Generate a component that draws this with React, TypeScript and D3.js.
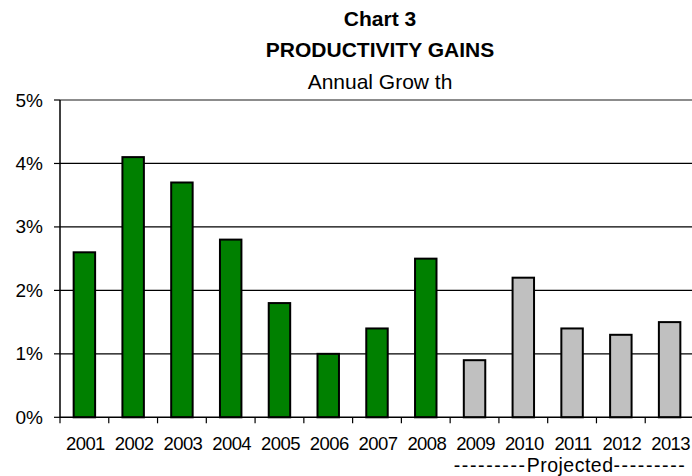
import React from "react";
import * as d3 from "d3";

const years = ["2001","2002","2003","2004","2005","2006","2007","2008","2009","2010","2011","2012","2013"];
const growth = [2.6, 4.1, 3.7, 2.8, 1.8, 1.0, 1.4, 2.5, 0.9, 2.2, 1.4, 1.3, 1.5];
const projected = [false,false,false,false,false,false,false,false,true,true,true,true,true];
const yTicks = [0, 1, 2, 3, 4, 5];
const titleLines = ["Chart 3", "PRODUCTIVITY GAINS", "Annual Grow th"];
const projectedWord = "Projected";
const projectedDashes = "---------";

const W = 692, H = 476;
const left = 60, right = 694, top = 100, bottom = 417.3;

export default function App() {
  const x = d3.scaleBand<string>().domain(years).range([left, right]).paddingInner(0.56).paddingOuter(0.28);
  const y = d3.scaleLinear().domain([0, 5]).range([bottom, top]);
  const step = x.step();
  const font = "'Liberation Sans', Arial, sans-serif";
  const projYears = years.filter((_, i) => projected[i]);
  const projCenter = ((x(projYears[0]) as number) - (step - x.bandwidth()) / 2 + (x(projYears[projYears.length - 1]) as number) + x.bandwidth() + (step - x.bandwidth()) / 2) / 2;

  return (
    <svg width={W} height={H} style={{ position: "absolute", left: 0, top: 0, background: "#fff" }} fontFamily={font}>
      <rect x={0} y={0} width={W} height={H} fill="#fff" />
      <text x={380} y={26} textAnchor="middle" fontWeight="bold" fontSize={21}>{titleLines[0]}</text>
      <text x={380} y={57.3} textAnchor="middle" fontWeight="bold" fontSize={21}>{titleLines[1]}</text>
      <text x={380} y={89.3} textAnchor="middle" fontSize={21}>{titleLines[2]}</text>

      {yTicks.map((t) => (
        <g key={t}>
          {t > 0 && (
            <line x1={left} x2={W} y1={y(t)} y2={y(t)} stroke={t === 5 ? "#8c8c8c" : "#000"} strokeWidth={t === 5 ? 2 : 1.2} />
          )}
          <line x1={left - 6} x2={left} y1={y(t)} y2={y(t)} stroke="#000" strokeWidth={1.2} />
          <text x={43} y={y(t) + 6.5} textAnchor="end" fontSize={19}>{t}%</text>
        </g>
      ))}

      {years.map((yr, i) => (
        <rect
          key={yr}
          x={x(yr)}
          y={y(growth[i])}
          width={x.bandwidth()}
          height={y(0) - y(growth[i])}
          fill={projected[i] ? "#c0c0c0" : "#008000"}
          stroke="#000"
          strokeWidth={2}
        />
      ))}

      <line x1={left} x2={left} y1={top} y2={bottom} stroke="#000" strokeWidth={1.5} />
      <line x1={left} x2={W} y1={bottom} y2={bottom} stroke="#000" strokeWidth={1.5} />
      {years.map((yr, i) => {
        const bx = left + i * step;
        return <line key={"t" + yr} x1={bx} x2={bx} y1={bottom} y2={bottom + 6} stroke="#000" strokeWidth={1.2} />;
      })}
      {years.map((yr) => (
        <text key={"l" + yr} x={(x(yr) as number) + x.bandwidth() / 2 + 1} y={450} textAnchor="middle" fontSize={18.5} letterSpacing={-0.6}>{yr}</text>
      ))}
      <text x={projCenter - 2} y={471.8} textAnchor="middle" fontSize={19.5}>
        <tspan letterSpacing={1.6}>{projectedDashes}</tspan>
        <tspan letterSpacing={0.5}>{projectedWord}</tspan>
        <tspan letterSpacing={1.6}>{projectedDashes}</tspan>
      </text>
    </svg>
  );
}
